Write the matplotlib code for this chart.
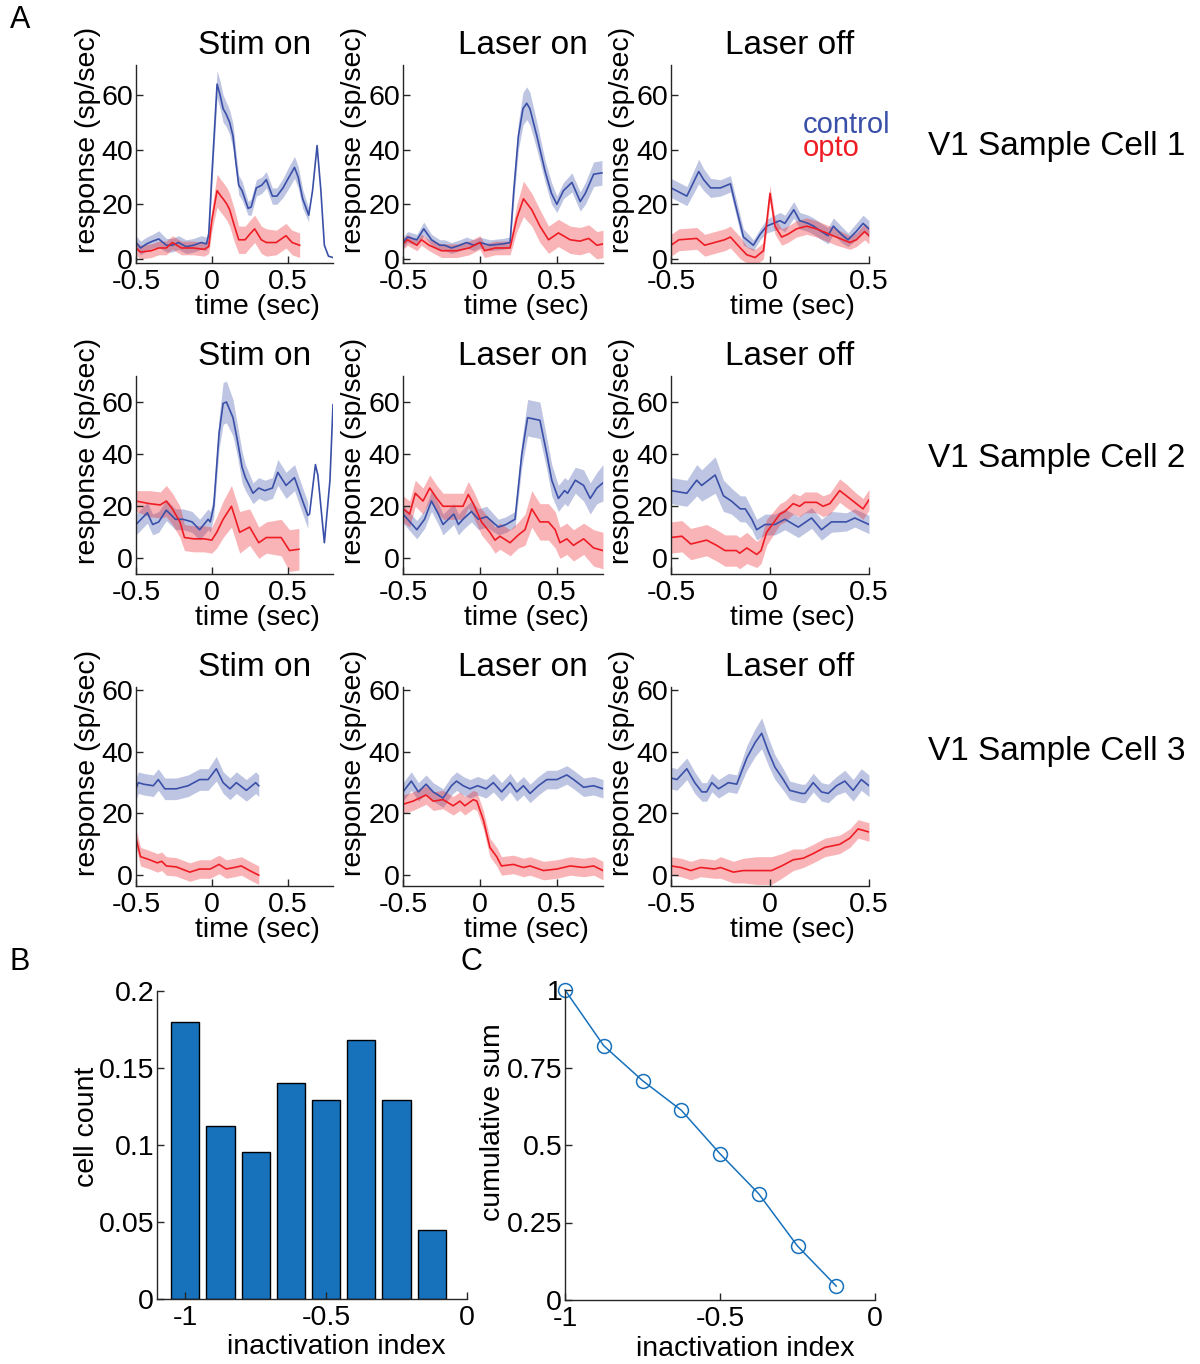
import numpy as np
import matplotlib
matplotlib.use('Agg')
import matplotlib.pyplot as plt

plt.rcParams['font.family'] = ['Liberation Sans', 'DejaVu Sans']
plt.rcParams['font.size'] = 20.5

nan = np.nan

# ---- panel A data: time (s), mean response (sp/s), sem band half-width ----
# cell 1, stim on
c1s_t_ctrl = [-0.5, -0.47, -0.43, -0.39, -0.35, -0.30, -0.26, -0.22, -0.17, -0.12, -0.07, -0.035, -0.02, 0.0,
              0.035, 0.055, 0.075, 0.095, 0.118, 0.14, 0.16, 0.178, 0.2, 0.24, 0.26, 0.294, 0.33, 0.36, 0.40,
              0.43, 0.47, 0.51, 0.546, 0.57, 0.60, 0.64, 0.665, 0.695, 0.72, 0.743, 0.77, 0.80]
c1s_ctrl = [6, 4, 5.5, 6.5, 7.3, 5, 5, 6, 4.5, 5, 6, 5.5, 9, 30, 64, 60, 55, 53, 50, 45, 35, 27, 25, 18.5, 19,
            26, 27, 29, 23, 23, 26, 30, 33.5, 30, 22, 16, 25, 41.5, 25, 5, 1, 0.5]
c1s_ctrl_sem = [2.5, 2.5, 2.5, 2.5, 3, 2.5, 2.5, 2.5, 2.5, 2.5, 2.5, 2.5, 3, 4, 5, 5, 5, 4.5, 4.5, 4.5, 4, 3.5,
                3.5, 2.5, 3, 3, 3, 3, 3, 3, 3.5, 4, 4, 4, 3.5, 2.5, nan, nan, nan, nan, nan, nan]
c1s_t_opto = [-0.5, -0.47, -0.4, -0.35, -0.3, -0.26, -0.2, -0.12, -0.05, -0.02, 0.0, 0.035, 0.06, 0.075, 0.1,
              0.118, 0.15, 0.178, 0.22, 0.25, 0.283, 0.327, 0.36, 0.425, 0.49, 0.53, 0.58]
c1s_opto = [4, 2.5, 3, 4, 4, 6, 4, 4, 3.5, 4.5, 14, 25, 23, 22, 20, 18, 12, 7, 7, 9, 11, 7, 6, 6, 8.5, 6, 5]
c1s_opto_sem = [2.5, 2.5, 2.5, 2.5, 2.5, 2.5, 2.5, 2.5, 2.5, 2.5, 4, 6, 6, 6, 6, 6, 6, 5, 5, 5, 5, 5, 5, 4.5,
                4.5, 4.5, 4.5]

# cell 1, laser on
c1on_t_ctrl = [-0.5, -0.47, -0.41, -0.365, -0.315, -0.26, -0.23, -0.185, -0.13, -0.087, -0.04, 0.0, 0.065,
               0.15, 0.196, 0.22, 0.25, 0.28, 0.304, 0.325, 0.37, 0.424, 0.465, 0.5, 0.543, 0.598, 0.652,
               0.685, 0.739, 0.793]
c1on_ctrl = [6, 8, 7, 11, 7, 5, 5, 4, 5, 6, 5, 6, 5, 5.5, 6, 25, 45, 55, 57, 55, 45, 32, 24, 20, 25, 28, 21,
             24, 31, 31.5]
c1on_ctrl_sem = [2, 2, 2, 2.5, 2, 2, 2, 2, 2, 2, 2, 2, 2, 2, 2, 4, 5, 6, 6, 6, 5, 4, 4, 3, 3, 3.5, 3.5, 4,
                 4.5, 4.5]
c1on_t_opto = [-0.5, -0.47, -0.41, -0.38, -0.33, -0.25, -0.15, -0.07, 0.0, 0.03, 0.1, 0.196, 0.24, 0.283,
               0.337, 0.39, 0.446, 0.51, 0.587, 0.65, 0.707, 0.76, 0.8]
c1on_opto = [5.5, 7, 5, 7, 5, 3, 3, 4, 6, 3, 4, 4, 15, 22, 18, 12, 7, 9.5, 7, 6.5, 7.5, 5, 5.5]
c1on_opto_sem = [2, 2, 2, 2, 2, 2.5, 2.5, 2.5, 2.5, 2.5, 2.5, 2.5, 5, 6.5, 6, 6, 5, 5, 5, 5, 5, 5, 5]

# cell 1, laser off
c1off_t_ctrl = [-0.5, -0.42, -0.36, -0.335, -0.30, -0.25, -0.20, -0.175, -0.134, -0.084, -0.05, -0.017,
                0.05, 0.075, 0.12, 0.15, 0.193, 0.22, 0.26, 0.293, 0.32, 0.36, 0.394, 0.435, 0.47, 0.5]
c1off_ctrl = [26, 23, 32, 29, 26, 26, 27.5, 20, 8, 5, 9, 12, 14, 13, 18, 14, 13, 12, 10, 8.5, 12, 9, 7, 10,
              13, 11]
c1off_ctrl_sem = [3.5, 3.5, 4.5, 4, 3.5, 3, 3, 3, 3, 2, 2, 2.5, 3, 3, 3, 3, 3, 3, 3, 3, 3, 3, 2.5, 3, 3, 3]
c1off_t_opto = [-0.5, -0.46, -0.37, -0.33, -0.28, -0.23, -0.2, -0.15, -0.117, -0.075, -0.033, 0.0, 0.025,
                0.059, 0.09, 0.134, 0.185, 0.235, 0.285, 0.335, 0.403, 0.436, 0.478, 0.5]
c1off_opto = [5, 7, 7.5, 5, 6, 7, 8, 4, 1.5, 0.5, 3, 24, 12, 8, 9, 11, 12, 11, 9.5, 8, 6, 7, 10, 8.5]
c1off_opto_sem = [4, 4, 4, 4, 4, 4, 4, 4, 3, 3, 3, 3, 3, 3, 3, 3, 3, 3, 3, 3, 2.5, 2.5, 3, 3]

# cell 2, stim on
c2s_t_ctrl = [-0.5, -0.425, -0.39, -0.35, -0.3, -0.24, -0.19, -0.13, -0.08, -0.024, -0.01, 0.013, 0.048,
              0.075, 0.097, 0.14, 0.17, 0.2, 0.222, 0.272, 0.31, 0.35, 0.4, 0.436, 0.49, 0.546, 0.6, 0.634,
              0.645, 0.684, 0.7, 0.743, 0.78, 0.8]
c2s_ctrl = [13, 17.5, 13, 14, 18.5, 15, 15, 14, 11, 15, 14, 20, 48, 59.5, 60, 54, 45, 35, 31, 25, 27, 26, 27,
            33, 28, 31, 22, 16.5, 17, 36, 32, 6, 30, 59]
c2s_ctrl_sem = [4, 4, 4, 4, 4, 4, 4, 4, 4, 4, 4, 4, 6, 8, 8, 7, 6, 6, 5, 4, 4, 4, 4, 5, 5, 5, 5, 5, nan, nan,
                nan, nan, nan, nan]
c2s_t_opto = [-0.5, -0.41, -0.34, -0.3, -0.26, -0.21, -0.18, -0.12, -0.05, 0.0, 0.033, 0.075, 0.13, 0.184,
              0.25, 0.31, 0.36, 0.458, 0.513, 0.575]
c2s_opto = [22, 21, 20.5, 22, 19, 14, 8, 7.5, 7.5, 7, 10, 15, 20, 10, 12, 6, 8, 8, 3, 3.5]
c2s_opto_sem = [4, 5, 5, 6, 6, 6, 5, 5, 5, 5, 6, 7, 8, 8, 7, 6, 6, 7, 8, 8]

# cell 2, laser on
c2on_t_ctrl = [-0.5, -0.41, -0.36, -0.315, -0.27, -0.24, -0.17, -0.14, -0.11, -0.055, -0.01, 0.043, 0.12,
               0.17, 0.228, 0.272, 0.31, 0.39, 0.435, 0.467, 0.51, 0.55, 0.57, 0.62, 0.674, 0.717, 0.76, 0.8]
c2on_ctrl = [17, 11, 15, 22, 17, 13, 17, 13, 15, 18, 15, 16, 12, 13, 15, 40, 54, 53, 40, 30, 23, 26, 25, 30,
             28, 23, 27, 29]
c2on_ctrl_sem = [3.5, 3.5, 3.5, 4, 4, 4, 4, 4, 4, 4, 4, 4, 3, 3, 3, 5, 7, 7, 6, 6, 5, 5, 5, 5, 6, 6, 6, 7]
c2on_t_opto = [-0.5, -0.457, -0.42, -0.37, -0.326, -0.28, -0.24, -0.15, -0.11, -0.076, -0.043, 0.01, 0.065,
               0.098, 0.13, 0.196, 0.25, 0.293, 0.337, 0.39, 0.445, 0.489, 0.52, 0.565, 0.608, 0.674, 0.739,
               0.8]
c2on_opto = [19, 17, 25, 22, 27, 23, 20, 20, 20, 24.5, 21, 14, 10, 7, 8.5, 6, 9, 11, 19, 14, 14, 11, 6, 7.5,
             5, 7.5, 4, 3]
c2on_opto_sem = [5, 5, 5, 5, 5, 5, 5, 5, 5, 5, 5, 5, 5, 5, 5, 5, 5, 6, 7, 7, 7, 7, 6, 6, 6, 6, 7, 7]

# cell 2, laser off
c2off_t_ctrl = [-0.5, -0.42, -0.37, -0.345, -0.277, -0.235, -0.195, -0.15, -0.125, -0.092, -0.067, -0.025,
                0.025, 0.075, 0.143, 0.21, 0.26, 0.31, 0.386, 0.428, 0.5]
c2off_ctrl = [26, 25, 30, 28, 32, 24, 22, 19, 19, 15, 11, 13, 13, 15, 12, 15.5, 11, 14, 14, 15.5, 13]
c2off_ctrl_sem = [5, 5, 6, 6, 7, 6, 5, 5, 5, 4, 4, 4, 4, 4, 4, 4, 4, 4, 3.5, 3.5, 3.5]
c2off_t_opto = [-0.5, -0.445, -0.4, -0.32, -0.27, -0.227, -0.17, -0.153, -0.117, -0.067, -0.045, -0.017,
                0.05, 0.075, 0.117, 0.15, 0.176, 0.235, 0.268, 0.302, 0.352, 0.386, 0.436, 0.47, 0.5]
c2off_opto = [8, 8.5, 5.5, 7, 5, 3, 3, 2, 4, 1.5, 3, 10, 17, 18, 21, 20, 21.5, 21.5, 20, 21, 26, 24, 21, 19,
              22.5]
c2off_opto_sem = [6, 6, 6, 6, 6, 6, 6, 6, 6, 5, 5, 5, 4, 4, 4, 4, 4, 4, 4, 4, 4.5, 4.5, 4, 4, 4]

# cell 3, stim on
c3s_t_ctrl = [-0.5, -0.485, -0.45, -0.386, -0.353, -0.31, -0.235, -0.156, -0.08, -0.024, 0.03, 0.075, 0.12,
              0.162, 0.228, 0.29, 0.31]
c3s_ctrl = [28, 30, 29.5, 29, 31, 28, 28, 29, 31, 31, 34.5, 30, 28, 30, 27.5, 30, 29]
c3s_ctrl_sem = [3.5, 3.5, 3.5, 3.5, 3.5, 3.5, 3.5, 3.5, 3.5, 3.5, 4, 3.5, 3.5, 3.5, 3.5, 3.5, 3.5]
c3s_t_opto = [-0.5, -0.47, -0.41, -0.36, -0.33, -0.3, -0.235, -0.145, -0.08, -0.01, 0.048, 0.095, 0.15,
              0.195, 0.25, 0.31]
c3s_opto = [12, 6, 5, 4, 4.5, 3, 2.7, 1, 2, 2, 3.5, 2, 2.5, 3, 1.5, 0]
c3s_opto_sem = [3, 3, 3, 3, 3, 3, 3, 3, 3, 3, 3, 3, 3, 3, 3, 3]

# cell 3, laser on
c3on_t_ctrl = [-0.5, -0.446, -0.4, -0.35, -0.304, -0.24, -0.185, -0.152, -0.109, -0.065, -0.015, 0.04,
               0.087, 0.141, 0.196, 0.239, 0.283, 0.326, 0.38, 0.435, 0.5, 0.565, 0.609, 0.674, 0.739, 0.8]
c3on_ctrl = [27, 30.5, 27, 29.5, 27, 25, 29, 30.5, 29, 28, 29, 28, 30, 27, 30, 27, 29, 26.5, 29, 31, 31, 32.5,
             31, 28.5, 29, 28]
c3on_ctrl_sem = [3] * 26
c3on_t_opto = [-0.5, -0.435, -0.35, -0.304, -0.24, -0.174, -0.13, -0.098, -0.043, -0.02, 0.022, 0.065, 0.109,
               0.14, 0.217, 0.283, 0.326, 0.413, 0.5, 0.587, 0.674, 0.739, 0.8]
c3on_opto = [23, 24, 26, 24, 24.5, 22.5, 24, 22.5, 24.5, 24, 18, 9, 6, 3, 3.5, 2.5, 3, 1.5, 2, 3, 2.5, 3, 1.5]
c3on_opto_sem = [3] * 23

# cell 3, laser off
c3off_t_ctrl = [-0.5, -0.47, -0.42, -0.38, -0.344, -0.32, -0.294, -0.26, -0.21, -0.168, -0.117, -0.075,
                -0.042, -0.008, 0.025, 0.067, 0.1, 0.16, 0.177, 0.218, 0.26, 0.294, 0.336, 0.378, 0.42, 0.461,
                0.5]
c3off_ctrl = [31.5, 31, 34.5, 30, 27, 27, 30, 28, 30, 29.5, 38, 43, 46, 40, 35, 31, 27.5, 26.5, 26.5, 30, 27,
              26.5, 29, 30.5, 27.5, 31, 29]
c3off_ctrl_sem = [3.5, 3.5, 3.5, 3.5, 3, 3, 3, 3, 3, 3, 4, 4.5, 5, 4.5, 4, 3.5, 3, 3, 3, 3, 3, 3, 3, 3.5, 3.5,
                  3.5, 3.5]
c3off_t_opto = [-0.5, -0.45, -0.4, -0.35, -0.28, -0.25, -0.185, -0.135, -0.067, 0.008, 0.059, 0.117, 0.168,
                0.218, 0.277, 0.352, 0.403, 0.445, 0.5]
c3off_opto = [3, 2.5, 1.5, 2.5, 2, 2.5, 1, 1.5, 1.5, 1.5, 3, 5, 5.5, 7, 9, 10, 12, 15, 14]
c3off_opto_sem = [3, 3, 3, 3, 3, 3.5, 3.5, 4, 4.5, 4.5, 4, 3.5, 3, 3, 3, 3, 3, 3, 3]

panel_titles = ['Stim on', 'Laser on', 'Laser off']
row_labels = ['V1 Sample Cell 1', 'V1 Sample Cell 2', 'V1 Sample Cell 3']

# ---- panels B and C ----
bin_centers = [-1.0, -0.875, -0.75, -0.625, -0.5, -0.375, -0.25, -0.125]
cell_frac = [0.1798, 0.1124, 0.0955, 0.1404, 0.1292, 0.1685, 0.1292, 0.0449]

W, H = 1200, 1364
fig = plt.figure(figsize=(W / 100, H / 100), dpi=100)

BLUE = '#3A50A8'
RED = '#EE1D25'
BAR = '#1771BB'


def add_ax(l, t, r, b):
    return fig.add_axes([l / W, 1 - b / H, (r - l) / W, (b - t) / H])


def style(ax):
    for s in ['top', 'right']:
        ax.spines[s].set_visible(False)
    for s in ['left', 'bottom']:
        ax.spines[s].set_color('#262626')
        ax.spines[s].set_linewidth(1)
    ax.tick_params(direction='in', length=5, width=1, color='#262626', labelsize=20.5)
    ax.tick_params(axis='x', pad=4)
    ax.tick_params(axis='y', pad=2)


def trace(ax, t, m, sem, color):
    t = np.array(t)
    m = np.array(m, dtype=float)
    sem = np.array(sem, dtype=float)
    ax.fill_between(t, m - sem, m + sem, color=color, alpha=0.33, lw=0)
    ax.plot(t, m, color=color, lw=1.2)


panels = [
    [(c1s_t_ctrl, c1s_ctrl, c1s_ctrl_sem, c1s_t_opto, c1s_opto, c1s_opto_sem),
     (c1on_t_ctrl, c1on_ctrl, c1on_ctrl_sem, c1on_t_opto, c1on_opto, c1on_opto_sem),
     (c1off_t_ctrl, c1off_ctrl, c1off_ctrl_sem, c1off_t_opto, c1off_opto, c1off_opto_sem)],
    [(c2s_t_ctrl, c2s_ctrl, c2s_ctrl_sem, c2s_t_opto, c2s_opto, c2s_opto_sem),
     (c2on_t_ctrl, c2on_ctrl, c2on_ctrl_sem, c2on_t_opto, c2on_opto, c2on_opto_sem),
     (c2off_t_ctrl, c2off_ctrl, c2off_ctrl_sem, c2off_t_opto, c2off_opto, c2off_opto_sem)],
    [(c3s_t_ctrl, c3s_ctrl, c3s_ctrl_sem, c3s_t_opto, c3s_opto, c3s_opto_sem),
     (c3on_t_ctrl, c3on_ctrl, c3on_ctrl_sem, c3on_t_opto, c3on_opto, c3on_opto_sem),
     (c3off_t_ctrl, c3off_ctrl, c3off_ctrl_sem, c3off_t_opto, c3off_opto, c3off_opto_sem)],
]

col_x = [(136, 333), (403, 603), (671, 869)]
row_y = [(65, 263), (376, 574), (687, 886)]
row_ylim = [(-1.5, 71), (-6, 70), (-3.5, 61)]
col_xlim = [(-0.5, 0.8), (-0.5, 0.8), (-0.5, 0.5)]

for i in range(3):
    for j in range(3):
        ax = add_ax(col_x[j][0], row_y[i][0], col_x[j][1], row_y[i][1])
        style(ax)
        tc, mc, sc, to, mo, so = panels[i][j]
        trace(ax, tc, mc, sc, BLUE)
        trace(ax, to, mo, so, RED)
        ax.set_xlim(*col_xlim[j])
        ax.set_ylim(*row_ylim[i])
        ax.set_xticks([-0.5, 0, 0.5])
        ax.set_xticklabels(['-0.5', '0', '0.5'])
        ax.set_yticks([0, 20, 40, 60])
        ax.text(0.6, 1.1, panel_titles[j], transform=ax.transAxes, ha='center', va='center', fontsize=24)
        ax.text(0.615, -0.222, 'time (sec)', transform=ax.transAxes, ha='center', va='center',
                fontsize=20.5)
        ax.text(-0.245, 0.62, 'response (sp/sec)', transform=ax.transAxes, rotation=90,
                ha='center', va='center', fontsize=20.5)
    ycen = [147, 459, 752][i]
    fig.text(928 / W, 1 - ycen / H, row_labels[i], ha='left', va='center', fontsize=24)

fig.text(803 / W, 1 - 125 / H, 'control', color=BLUE, ha='left', va='center', fontsize=21)
fig.text(803 / W, 1 - 148 / H, 'opto', color=RED, ha='left', va='center', fontsize=21)

# B: histogram
axb = add_ax(157, 991, 467, 1299)
style(axb)
axb.bar(bin_centers, cell_frac, width=0.1, color=BAR, edgecolor='black', linewidth=1)
axb.set_xlim(-1.1, 0)
axb.set_ylim(0, 0.2)
axb.set_xticks([-1, -0.5, 0])
axb.set_xticklabels(['-1', '-0.5', '0'])
axb.set_yticks([0, 0.05, 0.1, 0.15, 0.2])
axb.set_yticklabels(['0', '0.05', '0.1', '0.15', '0.2'])
axb.text(0.577, -0.156, 'inactivation index', transform=axb.transAxes, ha='center', va='center')
axb.text(-0.225, 0.56, 'cell count', transform=axb.transAxes, rotation=90, ha='center', va='center')

# C: cumulative sum from the right
cum = np.cumsum(cell_frac[::-1])[::-1]
cum = cum / cum[0]
axc = add_ax(565, 990, 875, 1300)
style(axc)
axc.plot(bin_centers, cum, color=BAR, lw=1.1, marker='o', markersize=10, markerfacecolor='none',
         markeredgewidth=1.1, clip_on=False)
axc.set_xlim(-1, 0)
axc.set_ylim(0, 1)
axc.set_xticks([-1, -0.5, 0])
axc.set_xticklabels(['-1', '-0.5', '0'])
axc.set_yticks([0, 0.25, 0.5, 0.75, 1])
axc.set_yticklabels(['0', '0.25', '0.5', '0.75', '1'])
axc.text(0.58, -0.158, 'inactivation index', transform=axc.transAxes, ha='center', va='center')
axc.text(-0.232, 0.574, 'cumulative sum', transform=axc.transAxes, rotation=90, ha='center', va='center')

fig.text(10 / W, 1 - 20 / H, 'A', fontsize=22, ha='left', va='center')
fig.text(10 / W, 1 - 962 / H, 'B', fontsize=22, ha='left', va='center')
fig.text(460 / W, 1 - 962 / H, 'C', fontsize=22, ha='left', va='center')

fig.savefig('out.png', dpi=100)
